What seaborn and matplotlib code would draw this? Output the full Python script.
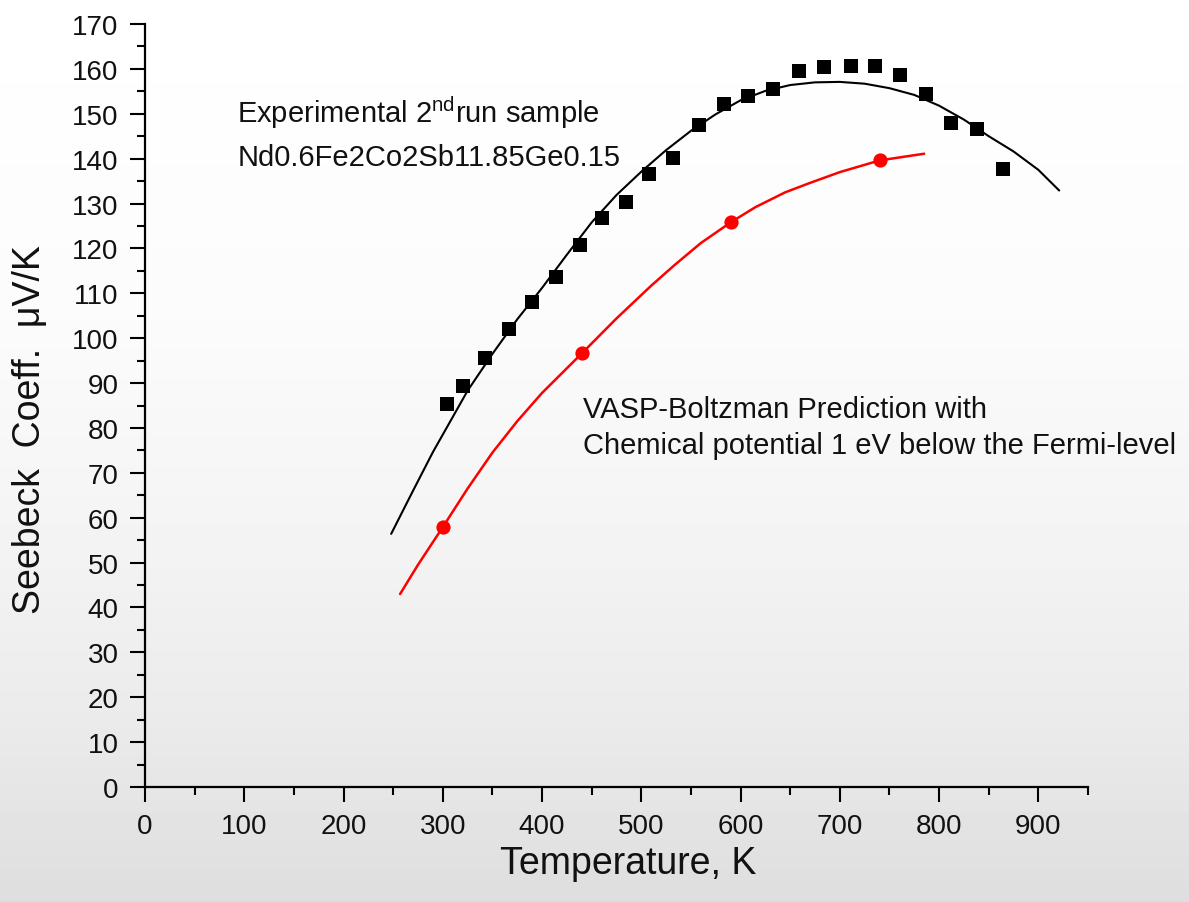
import numpy as np
import pandas as pd
import matplotlib
matplotlib.use("Agg")
import matplotlib.pyplot as plt
import seaborn as sns

# Measured Seebeck coefficient, 2nd run sample (K, uV/K)
exp_T = [304, 320, 343, 367, 390, 414, 438, 460, 485, 508, 532, 558,
         583, 607, 633, 659, 684, 711, 735, 761, 787, 812, 838, 864]
exp_S = [85.3, 89.4, 95.5, 102.0, 108.1, 113.6, 120.7, 126.7, 130.3, 136.5, 140.1, 147.5,
         152.1, 154.0, 155.5, 159.5, 160.4, 160.7, 160.6, 158.6, 154.3, 147.9, 146.7, 137.7]

# Fit curve through the measured data
fit_T = [248, 270, 290, 325, 350, 375, 400, 425, 450, 475, 500, 525, 550, 575, 600,
         625, 650, 675, 700, 725, 750, 775, 800, 825, 850, 875, 900, 921]
fit_S = [56.4, 66.0, 74.6, 88.3, 96.5, 104.2, 111.2, 118.6, 125.8, 131.9, 137.1, 141.9, 146.2,
         149.9, 153.0, 155.1, 156.4, 157.0, 157.1, 156.7, 155.7, 154.2, 151.8, 148.7, 145.0,
         141.6, 137.5, 132.9]

# VASP-Boltzmann computed points and their smooth curve
calc_T = [300, 440, 590, 740]
calc_S = [57.9, 96.6, 125.8, 139.6]
calc_curve_T = [257, 275, 300, 325, 350, 375, 400, 440, 475, 510, 533, 560, 590,
                615, 645, 670, 700, 740, 785]
calc_curve_S = [43.0, 49.5, 57.9, 66.5, 74.5, 81.5, 87.8, 96.6, 104.4, 111.7, 116.2, 121.2, 125.8,
                129.2, 132.5, 134.6, 137.0, 139.6, 141.1]

x_ticks = list(range(0, 1000, 100))
y_ticks = list(range(0, 180, 10))

sns.set_style("ticks")
plt.rcParams["font.family"] = ["Liberation Sans", "DejaVu Sans"]
plt.rcParams["mathtext.fontset"] = "custom"
plt.rcParams["mathtext.rm"] = "Liberation Sans"

W, H = 1189, 903
fig = plt.figure(figsize=(W / 100, H / 100), dpi=100)

# soft vertical gray gradient behind everything
bg = fig.add_axes([0, 0, 1, 1], zorder=-10)
rows = np.linspace(0, 1, 300)
levels = np.interp(rows, [0, 0.35, 0.6, 0.8, 1.0], [1.0, 0.985, 0.955, 0.92, 0.87])
bg.imshow(levels[:, None], aspect="auto", cmap="gray", vmin=0, vmax=1,
          extent=[0, 1, 0, 1], origin="upper", interpolation="bicubic")
bg.set_axis_off()

ax = fig.add_axes([145 / W, (H - 788) / H, (1088 - 145) / W, (788 - 25) / H])
ax.patch.set_alpha(0)

exp_df = pd.DataFrame({"T": exp_T, "S": exp_S})
fit_df = pd.DataFrame({"T": fit_T, "S": fit_S})
calc_df = pd.DataFrame({"T": calc_T, "S": calc_S})
calc_curve_df = pd.DataFrame({"T": calc_curve_T, "S": calc_curve_S})

sns.lineplot(data=fit_df, x="T", y="S", ax=ax, color="black", linewidth=1.5,
             sort=False, estimator=None, zorder=2)
sns.lineplot(data=calc_curve_df, x="T", y="S", ax=ax, color="#ff0000", linewidth=1.8,
             sort=False, estimator=None, zorder=2)
sns.scatterplot(data=exp_df, x="T", y="S", ax=ax, marker="s", s=88, color="black",
                edgecolor="black", linewidth=0, zorder=3)
sns.scatterplot(data=calc_df, x="T", y="S", ax=ax, marker="o", s=105, color="#ff0000",
                edgecolor="#ff0000", linewidth=0, zorder=3)

ax.set_xlim(0, 950)
ax.set_ylim(0, 170)
ax.set_xticks(x_ticks)
ax.set_yticks(y_ticks)
ax.set_xticks(list(range(50, 1000, 100)), minor=True)
ax.set_yticks(list(range(5, 170, 10)), minor=True)

for side in ("top", "right"):
    ax.spines[side].set_visible(False)
for side in ("left", "bottom"):
    ax.spines[side].set_linewidth(1.6)
    ax.spines[side].set_color("black")

ax.tick_params(which="major", direction="out", length=11, width=1.5, color="black",
               labelsize=20, pad=8, labelcolor="#111111")
ax.tick_params(which="minor", direction="out", length=6, width=1.5, color="black")

ax.set_xlabel("Temperature, K", fontsize=27, color="#111111")
ax.set_ylabel("Seebeck  Coeff.  \u03bcV/K", fontsize=27, color="#111111")
ax.xaxis.set_label_coords(0.512, -0.076)
ax.yaxis.set_label_coords(-0.103, 0.47)

ax.text(93, 150.4, r"Experimental 2$^{\mathregular{nd}}$run sample", fontsize=21,
        va="center", ha="left", color="#111111")
ax.text(93, 140.4, "Nd0.6Fe2Co2Sb11.85Ge0.15", fontsize=21,
        va="center", ha="left", color="#111111")
ax.text(441, 84.2, "VASP-Boltzman Prediction with", fontsize=21,
        va="center", ha="left", color="#111111")
ax.text(441, 76.2, "Chemical potential 1 eV below the Fermi-level", fontsize=21,
        va="center", ha="left", color="#111111")

fig.savefig("out.png", dpi=100)
